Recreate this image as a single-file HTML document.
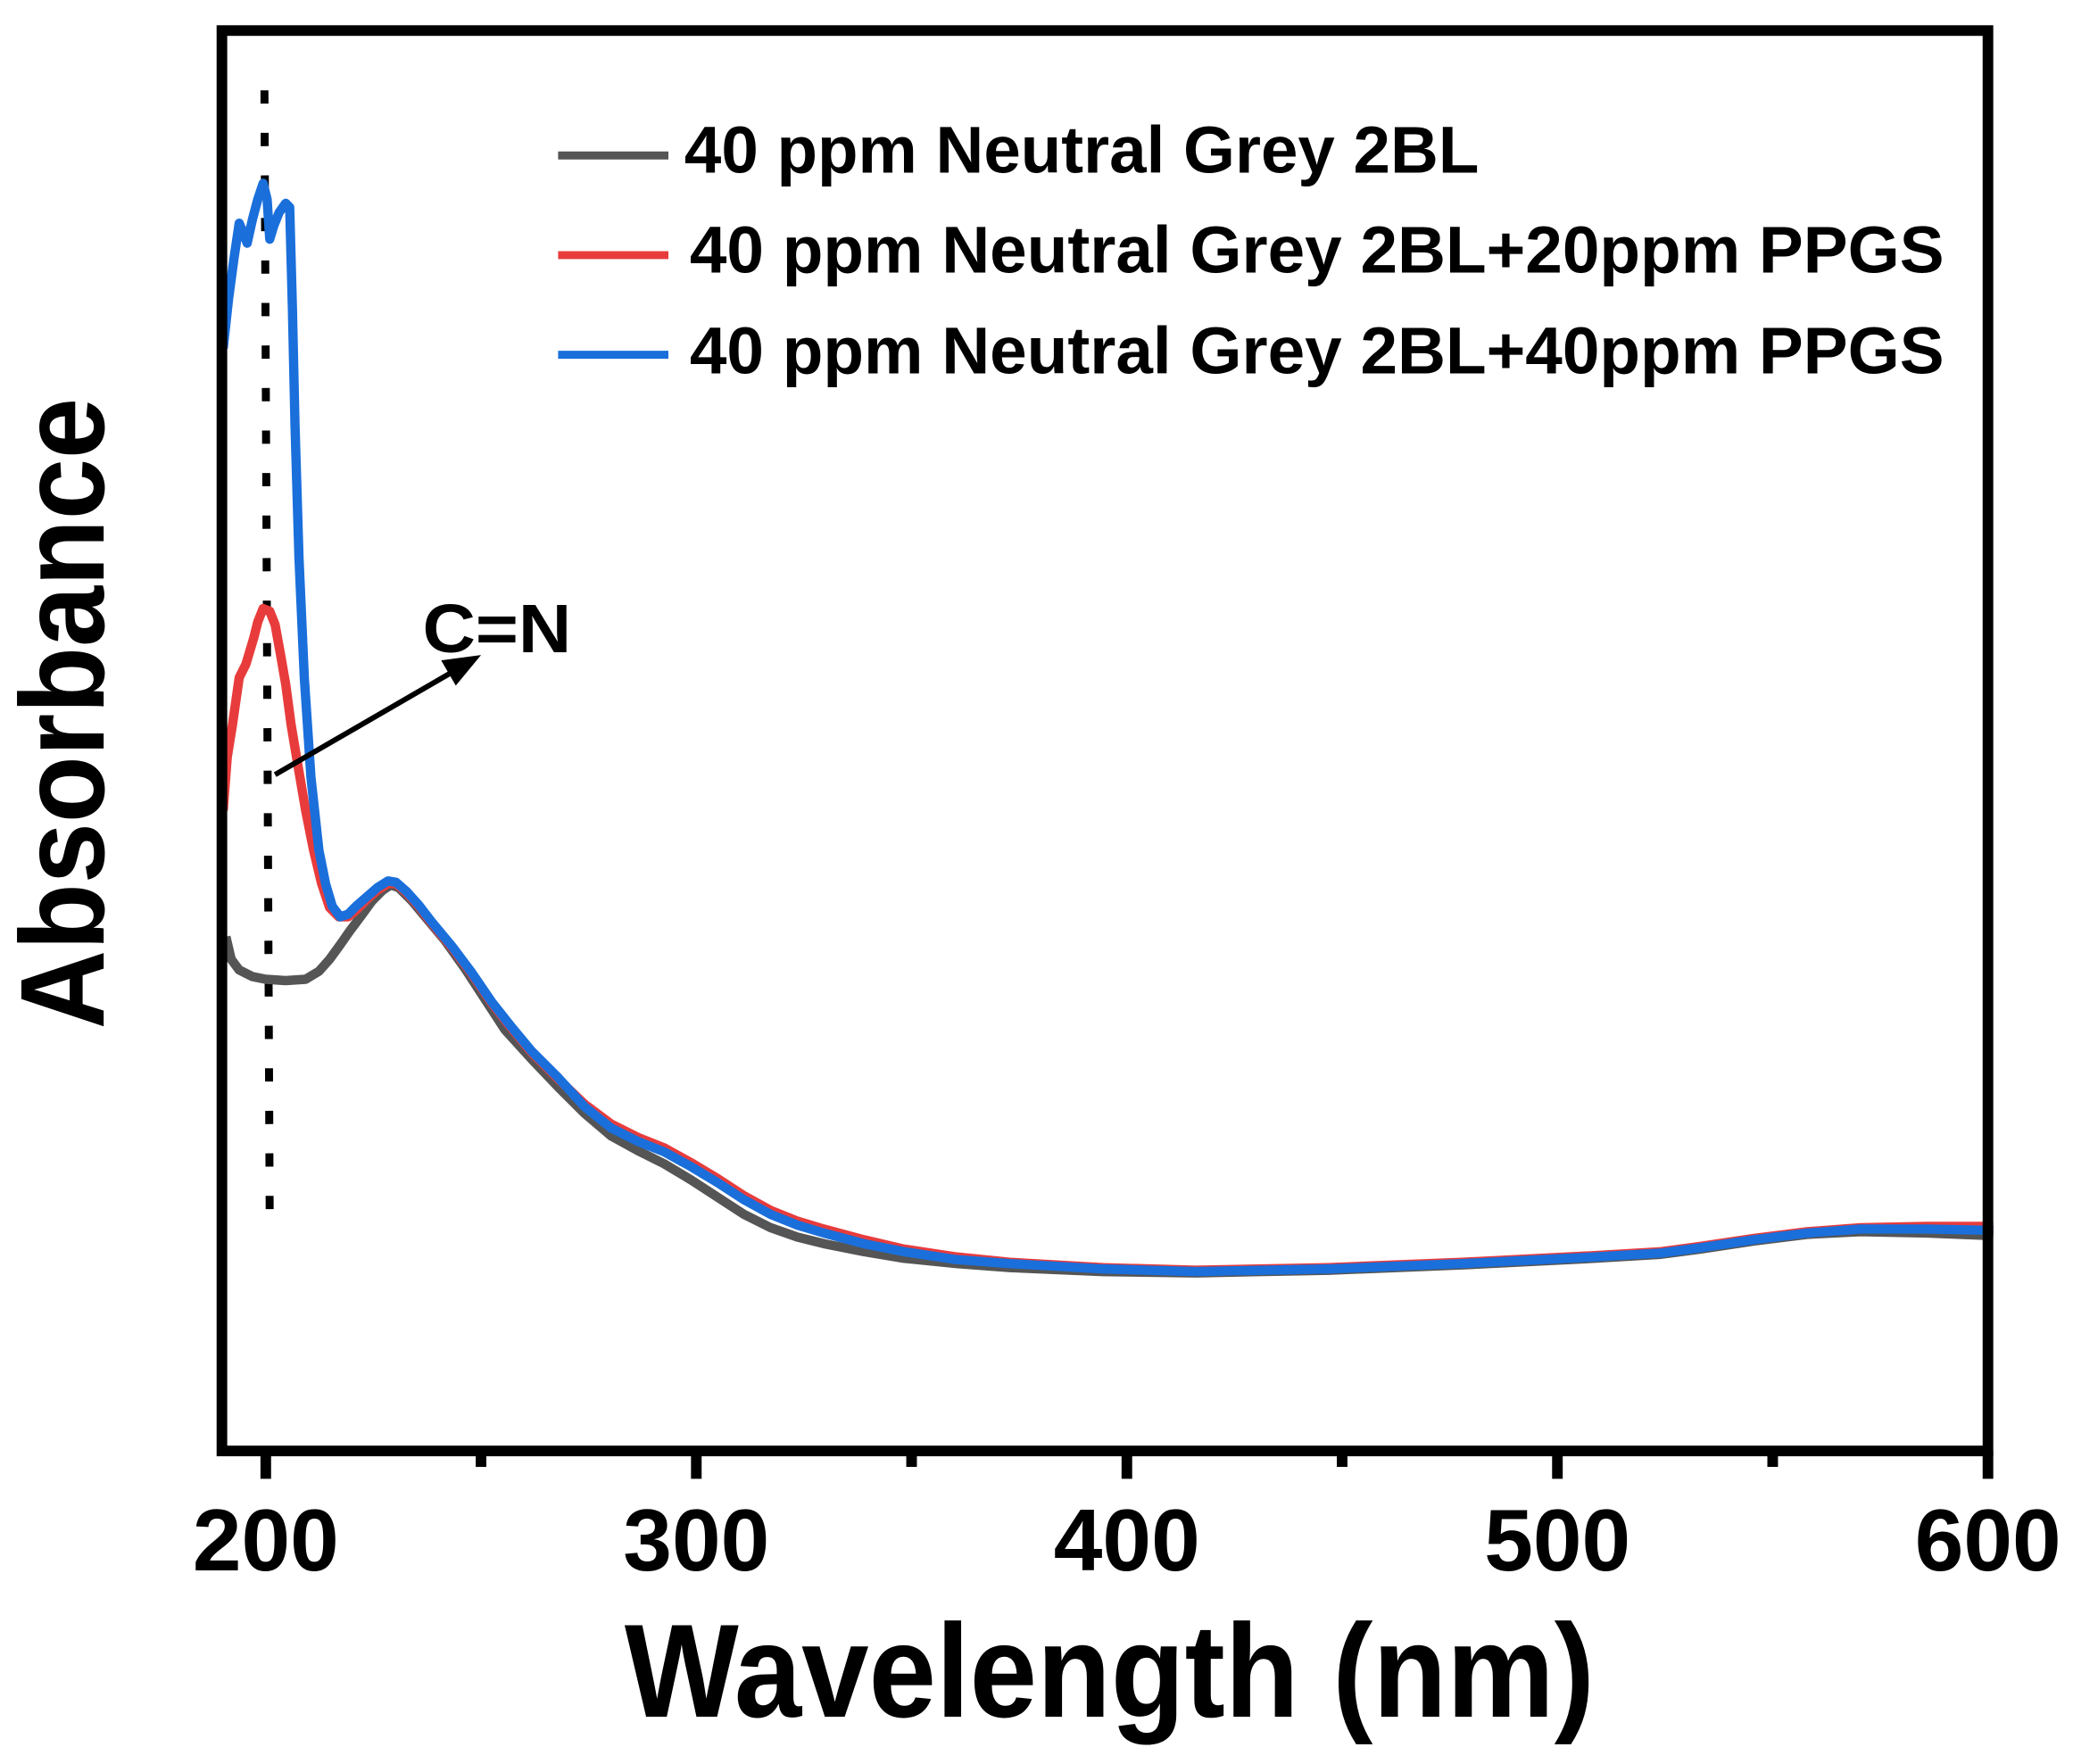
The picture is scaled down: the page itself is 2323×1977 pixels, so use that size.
<!DOCTYPE html>
<html><head><meta charset="utf-8"><style>html,body{margin:0;padding:0;background:#fff}svg{display:block}</style></head>
<body>
<svg width="2323" height="1977" viewBox="0 0 1560 1327.6" preserveAspectRatio="none" xmlns="http://www.w3.org/2000/svg" font-family="Liberation Sans, Arial, sans-serif" font-weight="bold">
<rect width="1560" height="1328" fill="#fff"/>
<line x1="199" y1="68" x2="203" y2="925" stroke="#000" stroke-width="6" stroke-dasharray="10 22"/>
<g fill="none" stroke-width="7" stroke-linejoin="round" stroke-linecap="butt">
<polyline stroke="#555555" points="170,705 174,722 180,730 190,735 200,737 215,738 230,737 240,731 248,722 256,711 263,701 272,689 280,678 288,670 294,666 300,668 310,678 320,690 335,708 350,729 365,752 380,775 400,797 420,818 440,838 460,855 480,866 500,876 520,888 540,901 560,914 580,924 600,931 620,936 650,942 680,947 720,951 760,954 830,957 900,958 1000,956 1100,952 1200,947 1250,944 1280,940 1320,934 1360,929 1400,927 1450,928 1500,930"/>
<polyline stroke="#e83c3c" points="168,610 171,570 175,545 180,510 185,500 188,490 191,480 194,468 198,458 203,460 207,470 211,492 215,515 219,545 224,575 230,610 236,640 242,665 248,683 255,690 262,690 268,685 276,677 284,670 292,665 298,665 306,672 315,682 325,695 340,713 355,733 370,755 385,774 400,792 420,812 440,831 460,846 480,856 500,864 520,875 540,887 560,900 580,911 600,919 620,925 650,933 680,940 720,946 760,950 830,954 900,956 1000,954 1100,950 1200,945 1250,942 1280,938 1320,932 1360,927 1400,924 1450,923 1500,923"/>
<polyline stroke="#1a6fdb" points="168,262 172,225 176,195 180,168 183,175 186,183 190,165 194,150 198,138 201,150 203,180 206,170 210,160 215,153 218,156 220,230 222,320 225,420 229,510 234,585 240,640 245,665 250,682 256,690 262,688 268,682 276,675 284,668 292,663 298,664 306,671 315,681 325,694 340,712 355,732 370,754 385,773 400,791 420,811 440,833 460,849 480,859 500,867 520,878 540,890 560,903 580,914 600,922 620,928 650,936 680,942 720,948 760,951 830,955 900,957 1000,955 1100,951 1200,946 1250,943 1280,939 1320,933 1360,928 1400,925 1450,925 1500,926"/>
</g>
<rect x="167" y="23" width="1329" height="1069" fill="none" stroke="#000" stroke-width="8"/>
<g stroke="#000" stroke-width="8">
<line x1="200" y1="1092" x2="200" y2="1113"/><line x1="524" y1="1092" x2="524" y2="1113"/><line x1="848" y1="1092" x2="848" y2="1113"/><line x1="1172" y1="1092" x2="1172" y2="1113"/><line x1="1496" y1="1092" x2="1496" y2="1113"/>
<line x1="362" y1="1092" x2="362" y2="1104"/><line x1="686" y1="1092" x2="686" y2="1104"/><line x1="1010" y1="1092" x2="1010" y2="1104"/><line x1="1334" y1="1092" x2="1334" y2="1104"/>
</g>
<g font-size="66" text-anchor="middle" fill="#000">
<text x="200" y="1182">200</text><text x="524" y="1182">300</text><text x="848" y="1182">400</text><text x="1172" y="1182">500</text><text x="1496" y="1182">600</text>
</g>
<text x="835" y="1292" font-size="100" text-anchor="middle" textLength="730" lengthAdjust="spacingAndGlyphs">Wavelength (nm)</text>
<text transform="translate(78,537) rotate(-90)" font-size="90" text-anchor="middle" textLength="475" lengthAdjust="spacingAndGlyphs">Absorbance</text>
<g stroke-width="6">
<line x1="420" y1="117" x2="503" y2="117" stroke="#555555"/>
<line x1="420" y1="192" x2="503" y2="192" stroke="#e83c3c"/>
<line x1="420" y1="267" x2="503" y2="267" stroke="#1a6fdb"/>
</g>
<g font-size="50" fill="#000">
<text x="515" y="130" textLength="598" lengthAdjust="spacingAndGlyphs">40 ppm Neutral Grey 2BL</text>
<text x="519" y="205" textLength="944" lengthAdjust="spacingAndGlyphs">40 ppm Neutral Grey 2BL+20ppm PPGS</text>
<text x="519" y="281" textLength="944" lengthAdjust="spacingAndGlyphs">40 ppm Neutral Grey 2BL+40ppm PPGS</text>
</g>
<line x1="207" y1="583" x2="340" y2="506" stroke="#000" stroke-width="4"/>
<polygon points="362,493 332,497 343,516" fill="#000"/>
<text x="318" y="491" font-size="52" textLength="112" lengthAdjust="spacingAndGlyphs">C=N</text>
</svg>
</body></html>
